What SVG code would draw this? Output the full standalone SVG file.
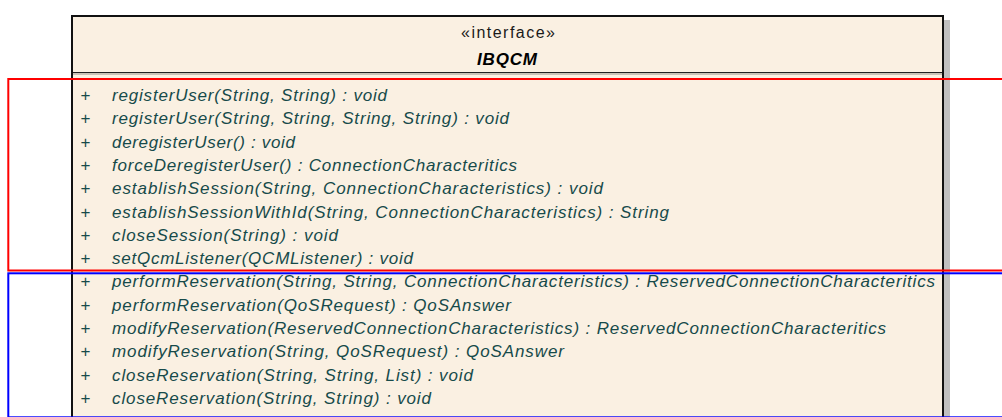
<svg xmlns="http://www.w3.org/2000/svg" width="1002" height="417" viewBox="0 0 1002 417">
<style>
  .m { font-family: "Liberation Sans", Arial, sans-serif; font-size: 17px; font-style: italic; fill: #164a4a; }
  .p { font-family: "Liberation Sans", Arial, sans-serif; font-size: 17px; fill: #164a4a; }
  .st { font-family: "Liberation Sans", Arial, sans-serif; font-size: 16px; fill: #1a1a1a; }
  .nm { font-family: "Liberation Sans", Arial, sans-serif; font-size: 17px; font-weight: bold; font-style: italic; fill: #000; }
</style>
<rect width="1002" height="417" fill="#ffffff"/>
<g id="IBQCM">
  <rect x="944" y="20" width="6" height="400" fill="#c0c0c0"/>
  <rect x="72" y="16" width="871" height="420" fill="#faf0e2" stroke="#111" stroke-width="2"/>
  <line x1="73" y1="72.5" x2="942" y2="72.5" stroke="#222" stroke-width="1.2"/>
  <line x1="73" y1="74" x2="942" y2="74" stroke="#9a948a" stroke-width="1"/>
  <text class="st" x="508" y="38" text-anchor="middle" textLength="94" lengthAdjust="spacing">«interface»</text>
  <text class="nm" x="507" y="65" text-anchor="middle" textLength="60" lengthAdjust="spacing">IBQCM</text>
  <g class="p">
    <text x="80.5" y="101">+</text>
    <text x="80.5" y="124.3">+</text>
    <text x="80.5" y="147.6">+</text>
    <text x="80.5" y="170.9">+</text>
    <text x="80.5" y="194.2">+</text>
    <text x="80.5" y="217.5">+</text>
    <text x="80.5" y="240.8">+</text>
    <text x="80.5" y="264.1">+</text>
    <text x="80.5" y="287.4">+</text>
    <text x="80.5" y="310.7">+</text>
    <text x="80.5" y="334">+</text>
    <text x="80.5" y="357.3">+</text>
    <text x="80.5" y="380.6">+</text>
    <text x="80.5" y="403.9">+</text>
  </g>
  <g class="m">
    <text x="112" y="101" textLength="275" lengthAdjust="spacing">registerUser(String, String) : void</text>
    <text x="112" y="124.3" textLength="397" lengthAdjust="spacing">registerUser(String, String, String, String) : void</text>
    <text x="112" y="147.6" textLength="183" lengthAdjust="spacing">deregisterUser() : void</text>
    <text x="112" y="170.9" textLength="405" lengthAdjust="spacing">forceDeregisterUser() : ConnectionCharacteritics</text>
    <text x="112" y="194.2" textLength="491" lengthAdjust="spacing">establishSession(String, ConnectionCharacteristics) : void</text>
    <text x="112" y="217.5" textLength="557" lengthAdjust="spacing">establishSessionWithId(String, ConnectionCharacteristics) : String</text>
    <text x="112" y="240.8" textLength="226" lengthAdjust="spacing">closeSession(String) : void</text>
    <text x="112" y="264.1" textLength="301" lengthAdjust="spacing">setQcmListener(QCMListener) : void</text>
    <text x="112" y="287.4" textLength="823" lengthAdjust="spacing">performReservation(String, String, ConnectionCharacteristics) : ReservedConnectionCharacteritics</text>
    <text x="112" y="310.7" textLength="399" lengthAdjust="spacing">performReservation(QoSRequest) : QoSAnswer</text>
    <text x="112" y="334" textLength="774" lengthAdjust="spacing">modifyReservation(ReservedConnectionCharacteristics) : ReservedConnectionCharacteritics</text>
    <text x="112" y="357.3" textLength="452" lengthAdjust="spacing">modifyReservation(String, QoSRequest) : QoSAnswer</text>
    <text x="112" y="380.6" textLength="361" lengthAdjust="spacing">closeReservation(String, String, List) : void</text>
    <text x="112" y="403.9" textLength="319" lengthAdjust="spacing">closeReservation(String, String) : void</text>
  </g>
</g>
<g id="highlight-red">
  <rect x="8.3" y="79" width="1010" height="191.5" fill="none" stroke="#ff0000" stroke-width="2"/>
</g>
<g id="highlight-blue">
  <rect x="8.3" y="273.3" width="1010" height="144" fill="none" stroke="#0000ff" stroke-width="2"/>
</g>
</svg>
